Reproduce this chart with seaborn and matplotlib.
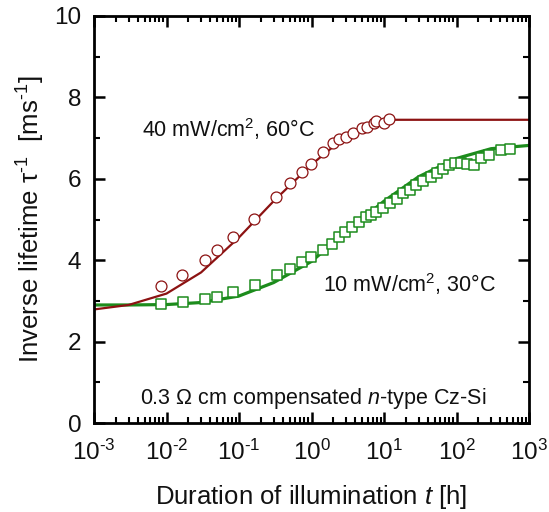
import numpy as np
import pandas as pd
import matplotlib
matplotlib.use("Agg")
import matplotlib.pyplot as plt
from matplotlib.ticker import FixedLocator, LogLocator, FuncFormatter, NullFormatter
import seaborn as sns

# ---- measured inverse lifetime, 40 mW/cm2 at 60 C (circles) ----
t_hot = [0.00832, 0.0165, 0.0337, 0.0492, 0.0833, 0.163, 0.324, 0.500, 0.740,
         0.984, 1.45, 1.95, 2.42, 2.96, 3.77, 4.92, 5.89, 7.28, 7.76, 10.0, 11.8]
inv_hot = [3.37, 3.63, 4.00, 4.25, 4.58, 5.02, 5.56, 5.89, 6.16,
           6.36, 6.65, 6.87, 6.97, 7.02, 7.13, 7.24, 7.28, 7.36, 7.43, 7.36, 7.47]

# ---- model curve, 40 mW/cm2 at 60 C ----
t_hot_fit = [0.001, 0.003, 0.01, 0.03, 0.1, 0.3, 1.0, 3.0, 10.0, 14.0, 1000.0]
inv_hot_fit = [2.79, 2.90, 3.18, 3.70, 4.56, 5.45, 6.35, 7.05, 7.40, 7.45, 7.45]

# ---- measured inverse lifetime, 10 mW/cm2 at 30 C (squares) ----
t_cool = [0.00839, 0.0167, 0.0340, 0.0502, 0.0833, 0.166, 0.331, 0.500, 0.740,
          0.993, 1.46, 1.92, 2.36, 2.90, 3.62, 4.52, 5.65, 6.62, 7.76, 9.78,
          12.1, 15.0, 18.5, 22.8, 27.2, 34.8, 43.8, 53.3, 65.8, 78.8,
          95.3, 115.0, 140.0, 174.0, 218.0, 281.0, 411.0, 547.0]
inv_cool = [2.92, 2.97, 3.05, 3.10, 3.21, 3.38, 3.64, 3.78, 3.96,
            4.09, 4.25, 4.40, 4.57, 4.69, 4.82, 4.94, 5.05, 5.11, 5.18, 5.29,
            5.40, 5.50, 5.64, 5.72, 5.85, 5.95, 6.05, 6.15, 6.24, 6.33,
            6.38, 6.38, 6.36, 6.34, 6.51, 6.58, 6.71, 6.73]

# ---- model curve, 10 mW/cm2 at 30 C ----
t_cool_fit = [0.001, 0.003, 0.01, 0.03, 0.1, 0.3, 1.0, 3.0, 10.0, 30.0, 100.0, 300.0, 1000.0]
inv_cool_fit = [2.90, 2.90, 2.91, 2.96, 3.12, 3.45, 3.97, 4.70, 5.45, 6.05, 6.50, 6.74, 6.82]

x_ticks = [1e-3, 1e-2, 1e-1, 1e0, 1e1, 1e2, 1e3]
y_ticks = [0, 2, 4, 6, 8, 10]

RED = "#8c1212"
GREEN = "#1c8c1c"

sns.set_theme(style="ticks")
plt.rcParams["font.family"] = ["Liberation Sans", "DejaVu Sans"]
plt.rcParams["mathtext.fontset"] = "custom"
plt.rcParams["mathtext.rm"] = "Liberation Sans"
plt.rcParams["mathtext.it"] = "Liberation Sans:italic"
plt.rcParams["mathtext.bf"] = "Liberation Sans:bold"
plt.rcParams["mathtext.default"] = "regular"
plt.rcParams["axes.unicode_minus"] = False

fig = plt.figure(figsize=(5.49, 5.12), dpi=100)
ax = fig.add_axes([94 / 549, 1 - 423 / 512, 435 / 549, 407 / 512])

hot_fit = pd.DataFrame({"t": t_hot_fit, "inv": inv_hot_fit})
cool_fit = pd.DataFrame({"t": t_cool_fit, "inv": inv_cool_fit})
hot = pd.DataFrame({"t": t_hot, "inv": inv_hot})
cool = pd.DataFrame({"t": t_cool, "inv": inv_cool})

sns.lineplot(data=cool_fit, x="t", y="inv", color=GREEN, lw=2.3, ax=ax, zorder=2)
sns.lineplot(data=hot_fit, x="t", y="inv", color=RED, lw=1.6, ax=ax, zorder=2)
sns.scatterplot(data=cool, x="t", y="inv", marker="s", s=50, color="white",
                edgecolor=GREEN, linewidth=1.1, ax=ax, zorder=3)
sns.scatterplot(data=hot, x="t", y="inv", marker="o", s=62, color="white",
                edgecolor=RED, linewidth=0.9, ax=ax, zorder=3)

ax.set_xscale("log")
ax.set_xlim(1e-3, 1e3)
ax.set_ylim(0, 10)

ax.xaxis.set_major_locator(FixedLocator(x_ticks))
ax.xaxis.set_minor_locator(LogLocator(base=10, subs=np.arange(2, 10), numticks=20))
ax.xaxis.set_minor_formatter(NullFormatter())
ax.xaxis.set_major_formatter(
    FuncFormatter(lambda v, p: r"$10^{\text{%d}}$" % int(round(np.log10(v)))))
ax.yaxis.set_major_locator(FixedLocator(y_ticks))
ax.yaxis.set_minor_locator(FixedLocator([1, 3, 5, 7, 9]))

for side in ["left", "right", "top", "bottom"]:
    ax.spines[side].set_linewidth(2.0)
    ax.spines[side].set_color("black")

ax.tick_params(which="both", direction="in", top=True, right=True, color="black")
ax.tick_params(which="major", length=8, width=1.8, labelsize=17.5, labelcolor="#111111")
ax.tick_params(which="minor", length=4.5, width=1.5)
ax.tick_params(axis="x", which="major", pad=12)
ax.tick_params(axis="y", which="major", pad=9)

ax.set_xlabel(r"Duration of illumination $\mathit{t}$ [h]", fontsize=18.5,
              color="#111111", labelpad=13)
ax.set_ylabel(r"Inverse lifetime τ$^{\text{-1}}$  [ms$^{\text{-1}}$]", fontsize=18.5,
              color="#111111", labelpad=5)

ax.text(0.00455, 7.03, r"40 mW/cm$^2$, 60°C", fontsize=15.5, ha="left",
        va="baseline", color="#111111")
ax.text(1.43, 3.23, r"10 mW/cm$^2$, 30°C", fontsize=15.5, ha="left",
        va="baseline", color="#111111")
ax.text(0.0043, 0.47, r"0.3 Ω cm compensated $\mathit{n}$-type Cz-Si",
        fontsize=15.5, ha="left", va="baseline", color="#111111")

fig.savefig("out.png", dpi=100, facecolor="white")
